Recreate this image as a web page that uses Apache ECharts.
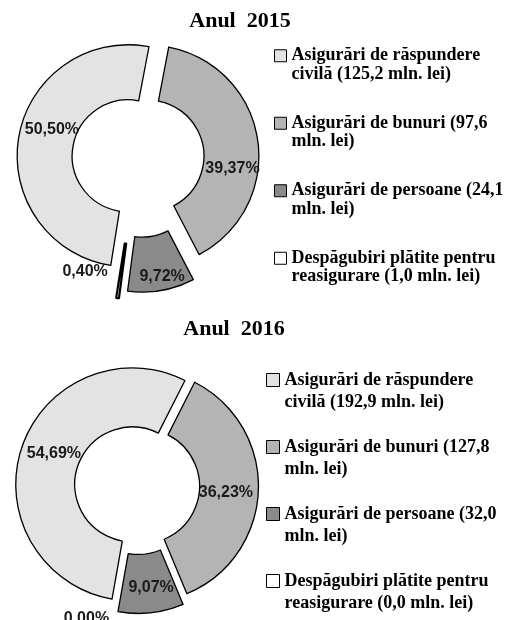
<!DOCTYPE html>
<html>
<head>
<meta charset="utf-8">
<script src="https://cdn.jsdelivr.net/npm/echarts@6/dist/echarts.min.js"></script>
<style>
  html, body { margin: 0; padding: 0; background: #fff; }
  #chart { width: 505px; height: 620px; }
</style>
</head>
<body>
<div id="chart"></div>
<script>
// categorii si valori (mln. lei)
const categories = [
  'Asigurări de răspundere civilă',
  'Asigurări de bunuri',
  'Asigurări de persoane',
  'Despăgubiri plătite pentru reasigurare'
]
const yearTitles = ['Anul  2015', 'Anul  2016']
const amounts2015 = [125.2, 97.6, 24.1, 1.0]
const amounts2016 = [192.9, 127.8, 32.0, 0.0]
const sliceColors = ['#e3e3e3', '#b4b4b4', '#8a8a8a', '#ffffff']
const sliceBorders = [1.3, 1.3, 1.3, 2.2]

const serifFont = '"Liberation Serif", "Times New Roman", serif'
const sansFont = '"Liberation Sans", Arial, sans-serif'
const legendFont = 'bold 18px ' + serifFont

function fmt(n, digits) {
  return n.toFixed(digits).replace('.', ',')
}

function itemNames(amounts) {
  return categories.map((c, i) => c + ' (' + fmt(amounts[i], 1) + ' mln. lei)')
}

// greedy word wrap, measured with the legend font
const measureCtx = document.createElement('canvas').getContext('2d')
function wrap(text, maxWidth) {
  measureCtx.font = legendFont
  const lines = []
  let line = ''
  text.split(' ').forEach(word => {
    const test = line ? line + ' ' + word : word
    if (line && measureCtx.measureText(test).width > maxWidth) {
      lines.push(line)
      line = word
    } else {
      line = test
    }
  })
  lines.push(line)
  return lines.join('\n')
}

// one series per slice, so every slice can be exploded by its own amount
function buildPies(amounts, opts) {
  const total = amounts.reduce((a, b) => a + b, 0)
  const names = itemNames(amounts)
  return categories.map((c, i) => ({
    type: 'pie',
    center: opts.center,
    radius: opts.radius,
    startAngle: opts.startAngle,
    selectedMode: 'multiple',
    selectedOffset: opts.explode[i],
    silent: true,
    animation: false,
    avoidLabelOverlap: false,
    labelLine: { show: false },
    label: {
      position: 'inside',
      fontFamily: sansFont,
      fontWeight: 'bold',
      fontSize: 16,
      color: '#1a1a1a',
      formatter: p => fmt(p.value / total * 100, 2) + '%'
    },
    labelLayout: () => ({ dx: opts.labelShift[i][0], dy: opts.labelShift[i][1] }),
    data: names.map((n, j) => ({
      name: n,
      value: amounts[j],
      selected: j === i,
      itemStyle: j === i
        ? { color: sliceColors[j], borderColor: '#000', borderWidth: amounts[j] > 0 ? sliceBorders[j] : 0 }
        : { color: 'rgba(0,0,0,0)', borderWidth: 0 },
      label: { show: j === i }
    }))
  }))
}

function buildLegend(amounts, opts) {
  return {
    data: itemNames(amounts).map((n, i) => ({ name: n, itemStyle: { color: sliceColors[i] } })),
    orient: 'vertical',
    left: opts.left,
    top: opts.top,
    height: 300,
    padding: 0,
    itemGap: opts.gap,
    itemWidth: opts.icon,
    itemHeight: opts.icon,
    icon: 'rect',
    selectedMode: false,
    itemStyle: { borderColor: '#000', borderWidth: 1 },
    // empty first line keeps the marker level with the first text line
    formatter: name => '\n' + wrap(name, 216),
    textStyle: {
      fontFamily: serifFont,
      fontWeight: 'bold',
      fontSize: 18,
      color: '#000',
      lineHeight: opts.lineHeight
    }
  }
}

const titleStyle = { fontFamily: serifFont, fontWeight: 'bold', fontSize: 22, color: '#000' }

const chart = echarts.init(document.getElementById('chart'))
chart.setOption({
  backgroundColor: '#fff',
  title: [
    { text: yearTitles[0], left: 240, top: 10, textAlign: 'center', padding: 0, textStyle: titleStyle },
    { text: yearTitles[1], left: 234, top: 318, textAlign: 'center', padding: 0, textStyle: titleStyle }
  ],
  legend: [
    buildLegend(amounts2015, { left: 274, top: 28, gap: 12, icon: 12, lineHeight: 18.5 }),
    buildLegend(amounts2016, { left: 266, top: 347, gap: 1, icon: 13, lineHeight: 22 })
  ],
  series: [
    ...buildPies(amounts2015, {
      center: [138, 157.5],
      radius: [56, 111],
      startAngle: -99,
      explode: [10, 10, 24, 31],
      labelShift: [[9, -11], [-1, 25], [5, 10], [-36, -2]]
    }),
    ...buildPies(amounts2016, {
      center: [137, 486],
      radius: [57.5, 116.5],
      startAngle: -100,
      explode: [5, 5, 11, 11],
      labelShift: [[7, -2], [-6, 3], [3, 1], [-33, 33]]
    })
  ]
})
</script>
</body>
</html>
